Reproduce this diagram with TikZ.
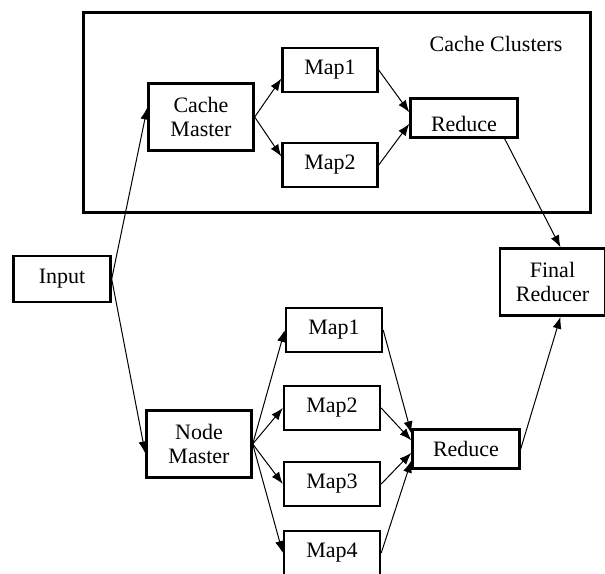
\documentclass[tikz,border=0pt]{standalone}
\usepackage{fontspec}
\setmainfont{Liberation Serif}
\usetikzlibrary{arrows.meta}

\begin{document}
\begin{tikzpicture}[x=0.5pt,y=-0.5pt,
		font=\fontsize{11}{12}\selectfont,
		box/.style={draw,line width=1.2pt,inner sep=0pt,align=center},
		mapbox/.style={box,minimum width=47.5pt,minimum height=22pt},
		masterbox/.style={box,minimum width=52.5pt,minimum height=33.5pt},
		reducebox/.style={box,minimum width=53.5pt,minimum height=19.5pt},
		flow/.style={line width=0.5pt,-{Latex[length=6pt,width=4.5pt]}}]
		%% Everything is given in pixels of the original figure
		\useasboundingbox (0,0) rectangle (605,573);

		% Cache clusters
		\draw[line width=1.5pt] (83,12) rectangle (590,212);
		\node (clusters) at (496,44) {Cache Clusters};
		\node[masterbox] (cmaster) at (201,117) {Cache\\Master};
		\node[mapbox] (cmap1) at (330,70) {Map1};
		\node[mapbox] (cmap2) at (330,165) {Map2};
		\node[reducebox,text height=13pt,text depth=0pt] (creduce) at (464,118) {Reduce};

		% Input and final reducer
		\node[box,minimum width=48.5pt,minimum height=23pt] (input) at (62,279) {Input};
		\node[masterbox] (final) at (552.5,282) {Final\\Reducer};

		% Node side
		\node[masterbox] (nmaster) at (199,444) {Node\\Master};
		\node[mapbox,minimum width=48pt] (nmap1) at (334,330) {Map1};
		\node[mapbox,minimum width=48pt] (nmap2) at (332,408) {Map2};
		\node[mapbox,minimum width=48pt] (nmap3) at (332,484) {Map3};
		\node[mapbox,minimum width=48pt] (nmap4) at (332,553) {Map4};
		\node[reducebox] (nreduce) at (466,449) {Reduce};

		%% Arrows
		\draw[flow] (input.east) -- (cmaster.170);
		\draw[flow] (input.east) -- (nmaster.190);

		\draw[flow] (cmaster.east) -- (cmap1.190);
		\draw[flow] (cmaster.east) -- (cmap2.170);
		\draw[flow] (cmap1.east) -- (creduce.174);
		\draw[flow] (cmap2.east) -- (creduce.186);
		\draw[flow] (creduce.333) -- (final.77);

		\draw[flow] (nmaster.east) -- (nmap1.west);
		\draw[flow] (nmaster.east) -- (nmap2.west);
		\draw[flow] (nmaster.east) -- (nmap3.west);
		\draw[flow] (nmaster.east) -- (nmap4.west);
		\draw[flow] (nmap1.east) -- (nreduce.164);
		\draw[flow] (nmap2.east) -- (nreduce.171);
		\draw[flow] (nmap3.east) -- (nreduce.184);
		\draw[flow] (nmap4.east) -- (nreduce.192);
		\draw[flow] (nreduce.east) -- (final.283);
	\end{tikzpicture}
\end{document}
